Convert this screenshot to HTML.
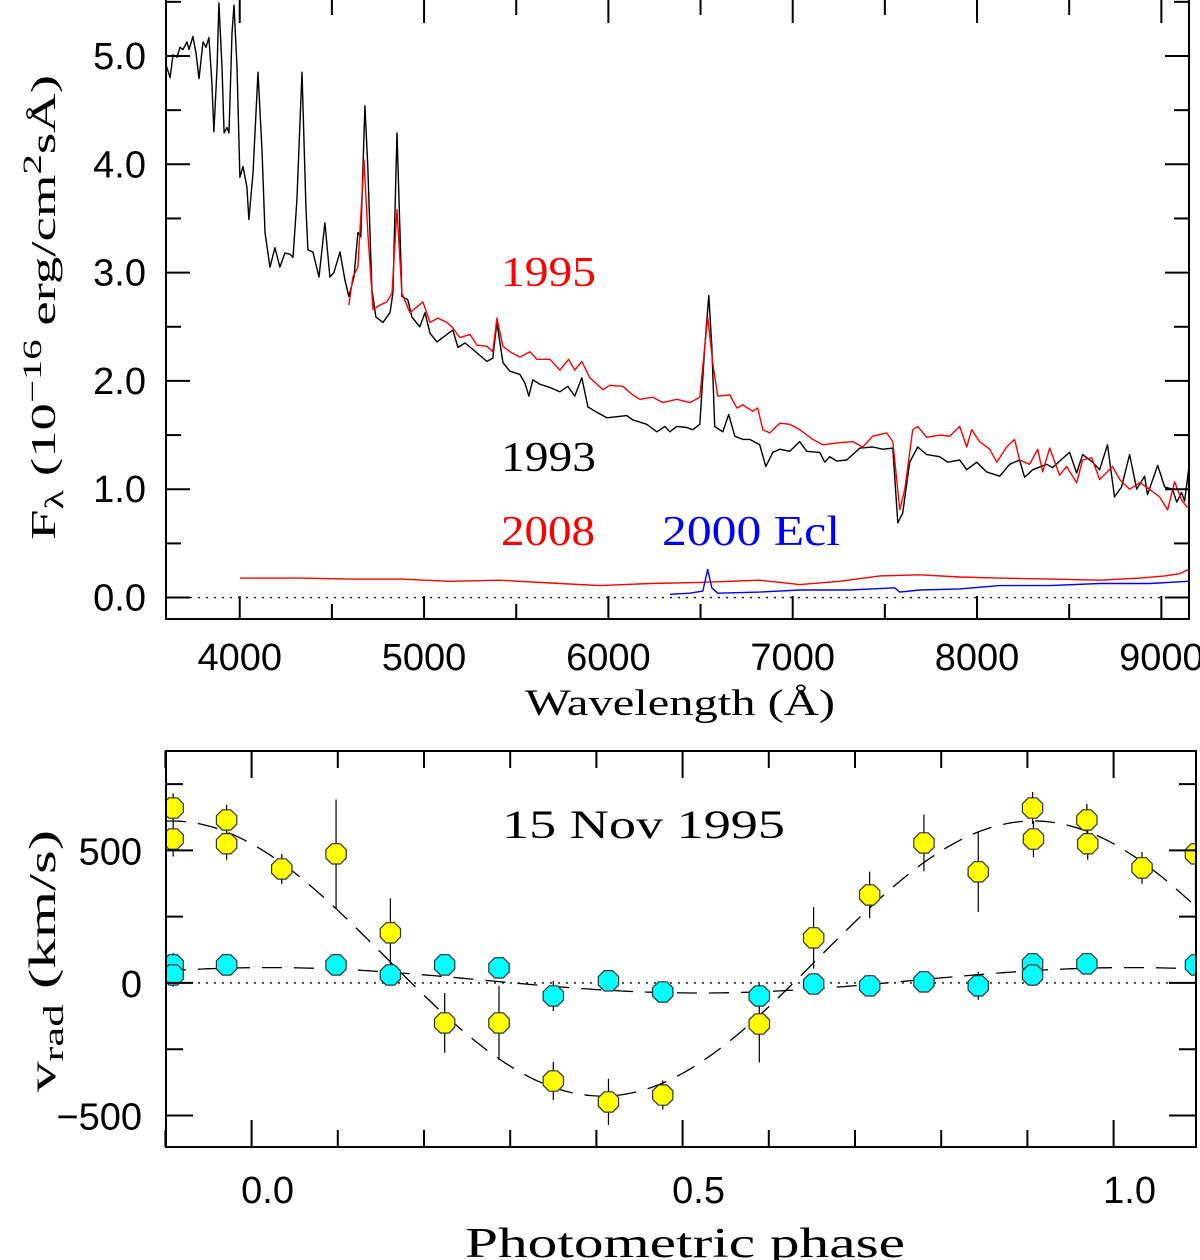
<!DOCTYPE html>
<html><head><meta charset="utf-8"><title>Spectra and radial velocities</title>
<style>
html,body{margin:0;padding:0;background:#fff;}
body{position:relative;width:1200px;height:1260px;overflow:hidden;}
svg{display:block;}
text{font-family:"Liberation Sans",sans-serif;}
.serif{font-family:"Liberation Serif",serif;}
</style></head>
<body>
<svg id="fig" width="1200" height="1260" viewBox="0 0 1200 1260" xmlns="http://www.w3.org/2000/svg">
<g id="topPanel"></g>
<g id="botPanel"></g>
</svg>
<script>
// ---------- Top panel data ----------
const wl1993 = [3604,3622,3638,3660,3676,3692,3714,3725,3746,3763,3779,3801,3817,3833,3849,3860,3877,3887,3904,3915,3931,3942,3958,3969,3985,4001,4018,4039,4050,4072,4099,4121,4137,4164,4191,4218,4245,4272,4289,4310,4338,4359,4370,4397,4430,4462,4489,4511,4544,4571,4592,4620,4641,4657,4679,4695,4717,4739,4777,4815,4831,4853,4880,4912,4934,4977,5005,5032,5070,5124,5156,5184,5222,5265,5341,5373,5395,5428,5466,5520,5547,5569,5590,5628,5682,5737,5780,5818,5856,5889,5937,5992,6046,6100,6133,6208,6263,6306,6333,6371,6425,6458,6496,6523,6545,6561,6577,6621,6653,6686,6729,6767,6821,6854,6892,6930,6984,7038,7076,7147,7174,7201,7239,7293,7364,7434,7488,7543,7570,7597,7635,7678,7727,7797,7841,7906,7944,7998,8052,8123,8177,8231,8258,8302,8378,8410,8448,8502,8540,8573,8627,8665,8708,8746,8784,8828,8866,8909,8925,8980,9018,9061,9083,9110,9126,9148];
const flux1993 = [4.90,4.80,5.01,4.99,5.08,5.06,5.13,5.06,5.18,5.03,4.79,5.13,5.08,5.17,4.75,4.30,4.90,5.49,4.90,4.29,4.34,4.29,5.21,5.47,4.90,3.88,3.98,3.79,3.49,3.92,4.85,4.13,3.37,3.05,3.23,3.05,3.18,3.17,3.14,3.67,4.85,3.61,3.21,3.19,2.96,3.46,2.96,3.00,3.19,2.93,2.78,2.96,3.37,3.33,4.54,3.98,2.84,2.59,2.54,2.63,2.81,4.29,2.78,2.75,2.59,2.50,2.63,2.44,2.36,2.43,2.47,2.31,2.35,2.29,2.18,2.21,2.54,2.17,2.09,2.06,1.98,1.86,2.01,1.97,1.94,1.90,1.95,1.86,2.03,1.76,1.71,1.66,1.67,1.68,1.64,1.60,1.53,1.58,1.53,1.58,1.57,1.55,1.60,2.32,2.79,2.32,1.58,1.53,1.69,1.49,1.46,1.46,1.41,1.21,1.34,1.37,1.35,1.44,1.35,1.34,1.25,1.30,1.26,1.27,1.38,1.39,1.37,1.38,0.69,0.78,1.25,1.39,1.32,1.30,1.25,1.27,1.18,1.25,1.16,1.12,1.23,1.27,1.11,1.18,1.23,1.20,1.26,1.34,1.15,1.32,1.25,1.18,1.41,0.93,1.02,1.32,1.00,1.12,0.95,1.22,1.02,1.00,0.88,0.97,0.89,1.18];
const wl1995 = [4592,4614,4641,4674,4695,4723,4760,4798,4826,4853,4880,4923,4994,5032,5075,5124,5156,5194,5249,5287,5341,5373,5395,5428,5466,5520,5574,5612,5682,5737,5785,5818,5856,5899,5970,6008,6078,6133,6171,6241,6295,6371,6442,6496,6523,6539,6566,6593,6659,6697,6729,6783,6810,6838,6875,6930,6984,7038,7109,7163,7255,7326,7380,7434,7510,7543,7581,7608,7651,7678,7727,7797,7852,7906,7944,7971,8014,8069,8107,8161,8204,8231,8285,8329,8356,8394,8448,8486,8540,8573,8622,8665,8735,8774,8828,8882,8920,8990,9034,9072,9110,9142];
const flux1995 = [2.70,2.96,3.05,4.04,3.37,2.66,2.70,2.73,2.81,3.58,2.81,2.63,2.73,2.54,2.58,2.54,2.49,2.40,2.43,2.33,2.32,2.27,2.58,2.32,2.27,2.22,2.27,2.20,2.20,2.10,2.20,2.10,2.18,2.03,1.92,1.96,1.95,1.87,1.83,1.85,1.80,1.83,1.80,1.85,2.32,2.59,2.17,1.86,1.87,1.75,1.78,1.72,1.75,1.55,1.52,1.61,1.60,1.55,1.46,1.41,1.43,1.44,1.39,1.49,1.52,1.44,0.81,1.00,1.55,1.58,1.48,1.50,1.49,1.58,1.39,1.55,1.44,1.37,1.25,1.39,1.46,1.27,1.23,1.37,1.16,1.38,1.13,1.21,1.06,1.27,1.29,1.09,1.21,1.09,1.00,1.06,1.02,0.93,0.81,1.07,0.90,0.83];
const wl2008 = [4001,4110,4327,4598,4869,5140,5411,5737,5954,6225,6496,6821,7038,7255,7472,7689,7906,8123,8394,8665,8882,9018,9099,9148];
const flux2008 = [0.18,0.18,0.18,0.17,0.17,0.15,0.16,0.13,0.11,0.13,0.14,0.16,0.12,0.15,0.20,0.21,0.19,0.18,0.17,0.16,0.18,0.20,0.22,0.26];
const wl2000 = [6333,6442,6512,6539,6561,6593,6821,7038,7309,7553,7581,7689,7906,8123,8394,8665,8936,9148];
const flux2000 = [0.03,0.04,0.06,0.26,0.09,0.04,0.05,0.07,0.07,0.09,0.05,0.07,0.08,0.11,0.11,0.13,0.13,0.15];
const specXTicks = [4000,5000,6000,7000,8000,9000];
const specYTicks = [0,1,2,3,4,5];
const specYLabels = ["0.0","1.0","2.0","3.0","4.0","5.0"];

// ---------- Bottom panel data ----------
const phY = [-0.091,-0.091,-0.029,-0.029,0.035,0.098,0.161,0.224,0.287,0.350,0.414,0.477,0.589,0.652,0.717,0.780,0.843,0.906,0.907,0.969,0.970,1.033,1.095];
const vY  = [660,543,615,525,430,487,189,-151,-151,-370,-449,-423,-155,170,332,528,419,660,543,615,525,434,487];
const eY  = [55,66,57,60,57,205,130,113,140,72,87,55,145,116,88,107,151,60,68,60,60,60,205];
const phC = [-0.091,-0.091,-0.029,0.098,0.161,0.224,0.287,0.350,0.414,0.477,0.589,0.652,0.717,0.780,0.843,0.906,0.906,0.969,1.095];
const vC  = [68,30,68,68,30,68,57,-49,8,-34,-49,-4,-11,4,-11,72,30,72,68];
const eC  = [45,45,40,40,40,40,40,57,40,40,45,40,40,35,53,40,40,40,40];
const fitY = [92,519,0.907];   // gamma, K, phase of max
const fitC = [10,48,0.02];
const rvXTicks = [0,0.5,1.0];
const rvXLabels = ["0.0","0.5","1.0"];
const rvYTicks = [-500,0,500];
const rvYLabels = ["\u2212500","0","500"];

const NS="http://www.w3.org/2000/svg";
function mk(parent,tag,attrs){const e=document.createElementNS(NS,tag);for(const k in attrs)e.setAttribute(k,attrs[k]);parent.appendChild(e);return e;}

// ---- top panel axes ----
const T={x0:166,x1:1189,y0:0,y1:619,wmin:3600,wmax:9150,fmin:-0.198,fmax:5.517};
function sx(w){return T.x0+(w-T.wmin)/(T.wmax-T.wmin)*(T.x1-T.x0);}
function sy(f){return T.y1-(f-T.fmin)/(T.fmax-T.fmin)*(T.y1-T.y0);}
const topG=document.getElementById('topPanel');
const clip=mk(topG,'clipPath',{id:'clipT'});
mk(clip,'rect',{x:T.x0,y:T.y0,width:T.x1-T.x0,height:T.y1-T.y0});
const zl=mk(topG,'line',{x1:T.x0,x2:T.x1,y1:sy(0),y2:sy(0),stroke:'#000','stroke-width':1.3,'stroke-dasharray':'2 6'});


function spec(wl,fl,color,name){
  let d='';for(let i=0;i<wl.length;i++)d+=(i?'L':'M')+sx(wl[i]).toFixed(1)+' '+sy(fl[i]).toFixed(1);
  const p=mk(topG,'path',{d:d,fill:'none',stroke:color,'stroke-width':1.4,'stroke-linejoin':'round','clip-path':'url(#clipT)'});
  
  
}
spec(wl2008,flux2008,'#ff0000','spectrum-2008');
spec(wl2000,flux2000,'#0000ff','spectrum-2000-eclipse');
spec(wl1993,flux1993,'#000000','spectrum-1993');
spec(wl1995,flux1995,'#ff0000','spectrum-1995');
const fr=mk(topG,'rect',{x:T.x0,y:T.y0-1,width:T.x1-T.x0,height:T.y1-T.y0+1,fill:'none',stroke:'#000','stroke-width':2});


for(let w=4000;w<=9000;w+=500){
  const L=(w%1000===0)?23:15;const x=sx(w);
  mk(topG,'line',{x1:x,x2:x,y1:T.y1,y2:T.y1-L,stroke:'#000','stroke-width':2});
  mk(topG,'line',{x1:x,x2:x,y1:T.y0,y2:T.y0+L,stroke:'#000','stroke-width':2});
}
for(let f=0;f<=5.5;f+=0.5){
  const L=(Math.abs(f-Math.round(f))<0.01)?24:15;const y=sy(f);
  mk(topG,'line',{x1:T.x0,x2:T.x0+L,y1:y,y2:y,stroke:'#000','stroke-width':2});
  mk(topG,'line',{x1:T.x1,x2:T.x1-L,y1:y,y2:y,stroke:'#000','stroke-width':2});
}
specXTicks.forEach(w=>{
  const t=mk(topG,'text',{x:sx(w),y:670,'font-size':38,'text-anchor':'middle'});t.textContent=String(w);
  
  
});
specYTicks.forEach((f,i)=>{
  const t=mk(topG,'text',{x:146,y:sy(f)+13,'font-size':38,'text-anchor':'end'});t.textContent=specYLabels[i];
  
  
});

// ---- bottom panel axes ----
const B={x0:166,x1:1196,y0:751,y1:1147,pmin:-0.0993,pmax:1.0956,vmin:-619,vmax:875};
function px(p){return B.x0+(p-B.pmin)/(B.pmax-B.pmin)*(B.x1-B.x0);}
function py(v){return B.y1-(v-B.vmin)/(B.vmax-B.vmin)*(B.y1-B.y0);}
const botG=document.getElementById('botPanel');
const clipB=mk(botG,'clipPath',{id:'clipB'});
mk(clipB,'rect',{x:B.x0,y:B.y0,width:B.x1-B.x0,height:B.y1-B.y0});
const zb=mk(botG,'line',{x1:B.x0,x2:B.x1,y1:py(0),y2:py(0),stroke:'#000','stroke-width':1.3,'stroke-dasharray':'2 6'});


function fit(par,name){
  let d='';for(let i=0;i<=240;i++){const p=B.pmin+(B.pmax-B.pmin)*i/240;const v=par[0]+par[1]*Math.cos(2*Math.PI*(p-par[2]));d+=(i?'L':'M')+px(p).toFixed(1)+' '+py(v).toFixed(1);}
  const e=mk(botG,'path',{d:d,fill:'none',stroke:'#000','stroke-width':1.3,'stroke-dasharray':'20 12','clip-path':'url(#clipB)'});
  
  
}
fit(fitY,'fit-curve-yellow');
fit(fitC,'fit-curve-cyan');
function octa(cx,cy,r){let s='';for(let k=0;k<8;k++){const a=Math.PI/8+k*Math.PI/4;s+=(cx+r*Math.cos(a)).toFixed(1)+','+(cy+r*Math.sin(a)).toFixed(1)+' ';}return s;}
function pts(ph,v,er,color,name){
  const g=mk(botG,'g',{'clip-path':'url(#clipB)'});
  
  
  for(let i=0;i<ph.length;i++){
    const x=px(ph[i]);
    const eb=mk(g,'line',{x1:x,x2:x,y1:py(v[i]+er[i]),y2:py(v[i]-er[i]),stroke:'#000','stroke-width':1.2});
    
    
  }
  for(let i=0;i<ph.length;i++){
    const m=mk(g,'polygon',{points:octa(px(ph[i]),py(v[i]),11),fill:color,stroke:'#333','stroke-width':1.2});
    
    
  }
}
pts(phY,vY,eY,'#ffff00','yellow');
pts(phC,vC,eC,'#00ffff','cyan');
const fb=mk(botG,'rect',{x:B.x0,y:B.y0,width:B.x1-B.x0,height:B.y1-B.y0,fill:'none',stroke:'#000','stroke-width':2});


for(let i=-1;i<=10;i++){
  const p=i/10;const L=(i%5===0)?27:17;const x=px(p);
  mk(botG,'line',{x1:x,x2:x,y1:B.y1,y2:B.y1-L,stroke:'#000','stroke-width':2});
  mk(botG,'line',{x1:x,x2:x,y1:B.y0,y2:B.y0+L,stroke:'#000','stroke-width':2});
}
for(let v=-500;v<=750;v+=250){
  const L=(v%500===0)?27:17;const y=py(v);
  mk(botG,'line',{x1:B.x0,x2:B.x0+L,y1:y,y2:y,stroke:'#000','stroke-width':2});
  mk(botG,'line',{x1:B.x1,x2:B.x1-L,y1:y,y2:y,stroke:'#000','stroke-width':2});
}
rvXTicks.forEach((p,i)=>{
  const t=mk(botG,'text',{x:px(p)+16,y:1203,'font-size':38,'text-anchor':'middle'});t.textContent=rvXLabels[i];
  
  
});
rvYTicks.forEach((v,i)=>{
  const t=mk(botG,'text',{x:142,y:py(v)+14,'font-size':38,'text-anchor':'end'});t.textContent=rvYLabels[i];
  
  
});
</script>
<svg style="position:absolute;left:0;top:0" width="1200" height="1260">
<text class="serif" x="501" y="286" font-size="42" fill="#ff0000" textLength="95" lengthAdjust="spacingAndGlyphs">1995</text>
<text class="serif" x="501" y="471" font-size="42" fill="#000" textLength="95" lengthAdjust="spacingAndGlyphs">1993</text>
<text class="serif" x="501" y="545" font-size="42" fill="#ff0000" textLength="94" lengthAdjust="spacingAndGlyphs">2008</text>
<text class="serif" x="662" y="545" font-size="42" fill="#0000ff" textLength="178" lengthAdjust="spacingAndGlyphs">2000 Ecl</text>
<text class="serif" x="525" y="715" font-size="37" textLength="310" lengthAdjust="spacingAndGlyphs">Wavelength (Å)</text>
<text class="serif" transform="translate(55,540) rotate(-90)" font-size="35" textLength="465" lengthAdjust="spacingAndGlyphs">F<tspan font-size="26" dy="8">λ</tspan><tspan dy="-8"> (10</tspan><tspan font-size="26" dy="-14">−16</tspan><tspan dy="14"> erg/cm</tspan><tspan font-size="26" dy="-14">2</tspan><tspan dy="14">sÅ)</tspan></text>
<text class="serif" x="502" y="838" font-size="40" textLength="283" lengthAdjust="spacingAndGlyphs">15 Nov 1995</text>
<text class="serif" x="465" y="1257" font-size="42" textLength="440" lengthAdjust="spacingAndGlyphs">Photometric phase</text>
<text class="serif" transform="translate(55,1092) rotate(-90)" font-size="38" textLength="262" lengthAdjust="spacingAndGlyphs">v<tspan font-size="28" dy="8">rad</tspan><tspan dy="-8">  (km/s)</tspan></text>
</svg>
</body></html>
